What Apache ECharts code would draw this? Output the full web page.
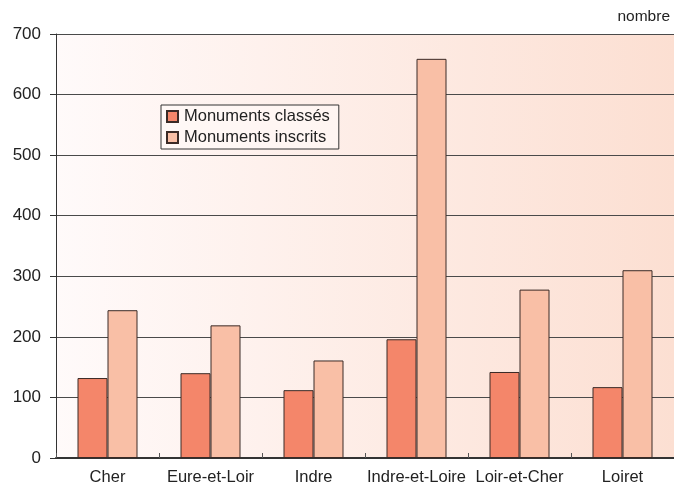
<!DOCTYPE html>
<html><head><meta charset="utf-8">
<script src="https://cdn.jsdelivr.net/npm/echarts@6/dist/echarts.min.js"></script>
<style>html,body{margin:0;padding:0;background:#fff}#c{width:674px;height:486px}</style>
</head><body><div id="c"></div>
<script>
const categories = ['Cher', 'Eure-et-Loir', 'Indre', 'Indre-et-Loire', 'Loir-et-Cher', 'Loiret'];
const classes = [132, 140, 112, 196, 142, 117];
const inscrits = [244, 219, 161, 659, 278, 310];
const yTicks = [0, 100, 200, 300, 400, 500, 600, 700];

const chart = echarts.init(document.getElementById('c'));
const font = 'Liberation Sans, Arial, sans-serif';
chart.setOption({
  animation: false,
  textStyle: { fontFamily: font },
  grid: {
    left: 56, right: 0, top: 34, bottom: 27, show: true, borderWidth: 0,
    backgroundColor: new echarts.graphic.LinearGradient(0, 0, 1, 0, [
      { offset: 0, color: '#fffafa' }, { offset: 1, color: '#fcdfd2' }
    ])
  },
  graphic: [{
    type: 'text', right: 4, top: 9,
    style: { text: 'nombre', font: '15.5px ' + font, fill: '#222' }
  }],
  legend: {
    left: 161, top: 105, orient: 'vertical', itemGap: 4, icon: 'rect',
    itemWidth: 11, itemHeight: 11, padding: [3, 9, 3, 5],
    borderColor: '#333', borderWidth: 1, backgroundColor: 'rgba(255,250,248,0.6)',
    textStyle: { fontSize: 16.5, color: '#222', fontFamily: font, padding: [0, 0, 0, 1] },
    data: ['Monuments classés', 'Monuments inscrits']
  },
  xAxis: {
    type: 'category', data: categories,
    axisLine: { lineStyle: { color: '#333', width: 2 } },
    axisTick: { show: true, inside: true, length: 5, interval: 0, lineStyle: { color: '#555' } },
    axisLabel: { fontSize: 16.5, color: '#222', margin: 11, interval: 0, fontFamily: font }
  },
  yAxis: {
    type: 'value', min: 0, max: 700, interval: 100,
    axisLine: { show: true, lineStyle: { color: '#333' } },
    axisTick: { show: true, length: 6, lineStyle: { color: '#333' } },
    axisLabel: { fontSize: 17, color: '#222', margin: 15, fontFamily: font,
      formatter: v => yTicks.includes(v) ? String(v) : '' },
    splitLine: { lineStyle: { color: '#4a4a4a', width: 1 } }
  },
  series: [
    { name: 'Monuments classés', type: 'bar', data: classes, barWidth: 30, barGap: '0%',
      itemStyle: { color: '#f4866a', borderColor: '#3a2a26', borderWidth: 1 } },
    { name: 'Monuments inscrits', type: 'bar', data: inscrits, barWidth: 30, barGap: '0%',
      itemStyle: { color: '#f9bfa6', borderColor: '#3a2a26', borderWidth: 1 } }
  ]
});
</script></body></html>
